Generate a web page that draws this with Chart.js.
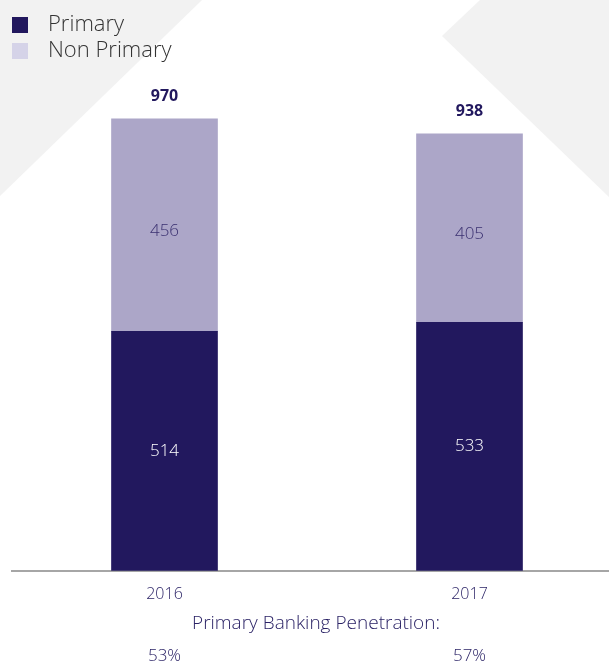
<!DOCTYPE html>
<html>
<head>
<meta charset="utf-8">
<script src="https://cdn.jsdelivr.net/npm/chart.js@4.4.1/dist/chart.umd.min.js"></script>
<style>
html, body { margin: 0; padding: 0; background: #fff; }
#wrap { width: 609px; height: 664px; overflow: hidden; position: relative; }
#canvas { display: block; }
</style>
</head>
<body>
<div id="wrap">
<canvas id="canvas" width="622" height="664"></canvas>
</div>
<script>
// data
const years = ['2016', '2017'];
const primary = [514, 533];
const nonPrimary = [456, 405];
const penetration = [53, 57];

const navy = '#22185e';
const lilac = '#aca6c8';
const lilacLegend = '#d5d3e8';
const FONT = '"Open Sans", Lato, sans-serif';

// grey shapes behind the chart
const backdrop = {
    id: 'backdrop',
    beforeDraw(chart) {
        const ctx = chart.ctx;
        ctx.save();
        ctx.fillStyle = '#ffffff';
        ctx.fillRect(0, 0, chart.width, chart.height);
        ctx.fillStyle = '#f2f2f2';
        ctx.beginPath();
        ctx.moveTo(0, 0);
        ctx.lineTo(202, 0);
        ctx.lineTo(0, 196);
        ctx.closePath();
        ctx.fill();
        ctx.beginPath();
        ctx.moveTo(480, 0);
        ctx.lineTo(622, 0);
        ctx.lineTo(622, 212);
        ctx.lineTo(609, 197);
        ctx.lineTo(442, 36);
        ctx.closePath();
        ctx.fill();
        ctx.restore();
    }
};

// legend, value labels, penetration row
const labels = {
    id: 'labels',
    afterDatasetsDraw(chart) {
        const ctx = chart.ctx;
        const x = chart.scales.x;
        const y = chart.scales.y;
        ctx.save();
        // legend
        ctx.textBaseline = 'middle';
        ctx.textAlign = 'left';
        ctx.font = '300 22px ' + FONT;
        ctx.fillStyle = navy;
        ctx.fillRect(12, 17, 16, 16);
        ctx.fillStyle = lilacLegend;
        ctx.fillRect(12, 43, 16, 16);
        ctx.fillStyle = '#333333';
        ctx.fillText('Primary', 48, 25);
        ctx.fillText('Non Primary', 48, 51);

        ctx.textAlign = 'center';
        years.forEach(function (yr, i) {
            const cx = x.getPixelForValue(i);
            const total = primary[i] + nonPrimary[i];
            const y0 = y.getPixelForValue(0);
            const y1 = y.getPixelForValue(primary[i]);
            const y2 = y.getPixelForValue(total);
            ctx.font = '300 17px ' + FONT;
            ctx.fillStyle = '#ffffff';
            ctx.fillText(String(primary[i]), cx, (y0 + y1) / 2);
            ctx.fillStyle = '#3a3070';
            ctx.fillText(String(nonPrimary[i]), cx, (y1 + y2) / 2 + 6);
            ctx.font = 'bold 16px ' + FONT;
            ctx.fillStyle = navy;
            ctx.fillText(String(total), cx, y2 - 22);
            ctx.font = '300 17px ' + FONT;
            ctx.fillStyle = '#2b2366';
            ctx.fillText(penetration[i] + '%', cx, 656);
        });
        ctx.font = '300 19px ' + FONT;
        ctx.fillStyle = '#2b2366';
        ctx.fillText('Primary Banking Penetration:', 316, 624);
        ctx.restore();
    }
};

const data = {
    labels: years,
    datasets: [
        {
            label: 'Primary',
            data: primary,
            backgroundColor: navy,
            barThickness: 106,
        },
        {
            label: 'Non Primary',
            data: nonPrimary,
            backgroundColor: lilac,
            barThickness: 106,
        },
    ]
};

const config = {
    type: 'bar',
    data: data,
    options: {
        responsive: false,
        animation: false,
        layout: { padding: { left: 12, right: 0, top: 0, bottom: 54 } },
        plugins: {
            legend: { display: false },
            tooltip: { enabled: false },
        },
        scales: {
            x: {
                stacked: true,
                grid: { display: false },
                border: { display: true, color: '#a6a6a6', width: 2 },
                ticks: {
                    color: '#2b2366',
                    padding: 6,
                    font: { family: FONT, size: 16, weight: '300' },
                },
            },
            y: {
                stacked: true,
                display: false,
                min: 0,
                max: 1225,
            },
        },
    },
    plugins: [backdrop, labels],
};

const canvas = document.getElementById('canvas');
const chart = new Chart(canvas, config);
</script>
</body>
</html>
